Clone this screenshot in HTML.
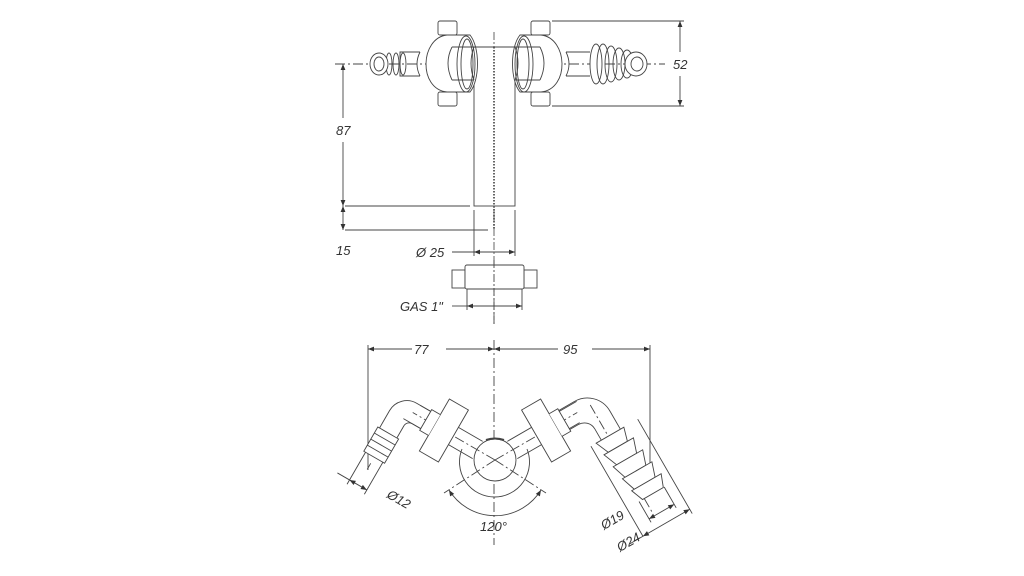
<!DOCTYPE html>
<html><head><meta charset="utf-8"><style>
html,body{margin:0;padding:0;background:#fff}
svg{display:block}
text{font-family:"Liberation Sans",sans-serif;font-style:italic;font-size:13px;fill:#333}
</style></head><body>
<svg width="1024" height="576" viewBox="0 0 1024 576" xmlns="http://www.w3.org/2000/svg">
<defs>
<marker id="a" viewBox="0 0 10 10" refX="10" refY="5" markerWidth="8" markerHeight="6" orient="auto-start-reverse" markerUnits="userSpaceOnUse"><path d="M0,1 L10,5 L0,9z" fill="#333"/></marker>
</defs>
<g fill="none" stroke="#444" stroke-width="0.9">
<!-- TOP VIEW -->
<line x1="494" y1="32" x2="494" y2="326" stroke-dasharray="8 2 2 2" stroke="#555"/>
<line x1="335" y1="64" x2="665" y2="64" stroke-dasharray="10 3 2 3"/>
<!-- vertical pipe -->
<rect x="474" y="47" width="41" height="159" fill="#fff"/>
<line x1="494" y1="47" x2="494" y2="230" stroke="#666" stroke-dasharray="1.5 1.5" stroke-width="2"/>
<!-- left nut -->
<rect x="438" y="21" width="19" height="14" rx="2" fill="#fff"/>
<rect x="438" y="92" width="19" height="14" rx="2" fill="#fff"/>
<path d="M447,35 C420,38 418,89 447,92 L470,92 C480,80 480,47 470,35 Z" fill="#fff"/>
<ellipse cx="466" cy="64" rx="9" ry="28"/>
<ellipse cx="467" cy="64" rx="6" ry="25"/>
<!-- left connector/barb -->
<path d="M420,52 H400 V76 H420" />
<path d="M420,52 Q414,64 420,76"/>
<ellipse cx="403" cy="64" rx="3" ry="11"/>
<ellipse cx="396" cy="64" rx="3" ry="11"/>
<ellipse cx="389" cy="64" rx="3" ry="11"/>
<ellipse cx="379" cy="64" rx="9" ry="11" fill="#fff"/>
<ellipse cx="379" cy="64" rx="5" ry="7"/>
<!-- right nut -->
<rect x="531" y="21" width="19" height="14" rx="2" fill="#fff"/>
<rect x="531" y="92" width="19" height="14" rx="2" fill="#fff"/>
<path d="M541,35 C568,38 570,89 541,92 L520,92 C510,80 510,47 520,35 Z" fill="#fff"/>
<ellipse cx="524" cy="64" rx="9" ry="28"/>
<ellipse cx="523" cy="64" rx="6" ry="25"/>
<!-- horizontal tube on top -->
<path d="M452,47 H474 M452,80 H474 M515,47 H540 M515,80 H540" />
<path d="M452,47 Q444,63 452,80 M540,47 Q548,63 540,80"/>
<path d="M474,47 H515 M474,47 Q468,63 474,80 M515,47 Q521,63 515,80"/>
<!-- right connector/barb -->
<path d="M566,52 H590 M566,76 H590"/>
<path d="M566,52 Q572,64 566,76"/>
<ellipse cx="596" cy="64" rx="6" ry="20" fill="#fff"/>
<ellipse cx="603" cy="64" rx="6" ry="20"/>
<ellipse cx="611" cy="64" rx="6" ry="18"/>
<ellipse cx="619" cy="64" rx="6" ry="16"/>
<ellipse cx="627" cy="64" rx="6" ry="14"/>
<ellipse cx="636" cy="64" rx="11" ry="12" fill="#fff"/>
<ellipse cx="637" cy="64" rx="6" ry="7"/>
<!-- 52 dim -->
<line x1="552" y1="21" x2="684" y2="21"/>
<line x1="552" y1="106" x2="684" y2="106"/>
<line x1="680" y1="52" x2="680" y2="21" marker-end="url(#a)"/>
<line x1="680" y1="76" x2="680" y2="106" marker-end="url(#a)"/>
<!-- 87 / 15 dims -->
<line x1="343" y1="118" x2="343" y2="64" marker-end="url(#a)"/>
<line x1="343" y1="142" x2="343" y2="206" marker-end="url(#a)"/>
<line x1="343" y1="206" x2="343" y2="230" marker-start="url(#a)" marker-end="url(#a)"/>
<line x1="345" y1="206" x2="470" y2="206"/>
<line x1="345" y1="230" x2="488" y2="230"/>
<!-- Ø25 -->
<line x1="474" y1="210" x2="474" y2="256"/>
<line x1="515" y1="210" x2="515" y2="256"/>
<line x1="452" y1="252" x2="474" y2="252"/>
<line x1="474" y1="252" x2="515" y2="252" marker-start="url(#a)" marker-end="url(#a)"/>
<!-- lower nut -->
<rect x="452" y="270" width="13" height="18" fill="#fff"/>
<rect x="524" y="270" width="13" height="18" fill="#fff"/>
<rect x="465" y="265" width="59" height="24" rx="2" fill="#fff"/>
<line x1="467" y1="289" x2="467" y2="310"/>
<line x1="522" y1="289" x2="522" y2="310"/>
<line x1="452" y1="306" x2="467" y2="306"/>
<line x1="467" y1="306" x2="522" y2="306" marker-start="url(#a)" marker-end="url(#a)"/>
<line x1="494" y1="260" x2="494" y2="326" stroke-dasharray="8 2 2 2"/>

<!-- BOTTOM VIEW -->
<line x1="368" y1="345" x2="368" y2="470"/>
<line x1="650" y1="345" x2="650" y2="480"/>
<line x1="412" y1="349" x2="368" y2="349" marker-end="url(#a)"/>
<line x1="446" y1="349" x2="494" y2="349" marker-end="url(#a)"/>
<line x1="558" y1="349" x2="494" y2="349" marker-end="url(#a)"/>
<line x1="592" y1="349" x2="650" y2="349" marker-end="url(#a)"/>
<line x1="494" y1="340" x2="494" y2="545" stroke-dasharray="10 3 2 3"/>
<!-- hub -->
<path d="M462,449 A35,35 0 1,0 527,449"/>
<circle cx="495" cy="460" r="21" fill="#fff"/>
<path d="M486,440 Q495,437 504,440" stroke-width="2"/>
<!-- 120 arc -->
<path d="M449,490 A54,54 0 0,0 541,490" marker-start="url(#a)" marker-end="url(#a)"/>
<line x1="495" y1="460" x2="444" y2="493" stroke-dasharray="10 3 2 3"/>
<line x1="495" y1="460" x2="546" y2="493" stroke-dasharray="10 3 2 3"/>

<!-- right arm -->
<g transform="translate(495,460) rotate(-30)">
<path d="M20,-10 H100 M20,10 H92"/>
<line x1="0" y1="0" x2="95" y2="0" stroke-dasharray="10 3 2 3"/>
<rect x="48" y="-30" width="22" height="60" fill="#fff"/>
<path d="M70,-13 H80 V13 H70" fill="#fff"/>
<path d="M80,-11 H98 A26,26 0 0,1 124,15 V36 M80,11 H90 A12,12 0 0,1 102,23 V36"/>
<path d="M110,0 V125" stroke-dasharray="10 3 2 3"/>
<path d="M96,36 L128,36 L124,50 L102,50 Z" fill="#fff"/>
<path d="M97,50 L131,50 L126,65 L103,65 Z" fill="#fff"/>
<path d="M99,65 L133,65 L128,80 L104,80 Z" fill="#fff"/>
<path d="M101,80 L135,80 L130,95 L106,95 Z" fill="#fff"/>
<path d="M103,95 L137,95 L132,108 L108,108 Z" fill="#fff"/>
<path d="M90,36 V140 M144,36 V145 M104,108 V132 M133,108 V132"/>
<line x1="104" y1="128" x2="133" y2="128" marker-start="url(#a)" marker-end="url(#a)"/>
<line x1="90" y1="140" x2="144" y2="140" marker-start="url(#a)" marker-end="url(#a)"/>
<line x1="90" y1="140" x2="75" y2="140"/>
</g>
<!-- left arm -->
<g transform="translate(495,460) rotate(-150)">
<path d="M20,-10 H100 M20,10 H92"/>
<line x1="0" y1="0" x2="95" y2="0" stroke-dasharray="10 3 2 3"/>
<rect x="48" y="-30" width="22" height="60" fill="#fff"/>
<path d="M70,-12 H80 V12 H70" fill="#fff"/>
<path d="M80,10 H96 A20,20 0 0,0 116,-10 V-30 M80,-10 H90 A6,6 0 0,0 96,-16 V-30"/>
<rect x="94" y="-58" width="24" height="28" fill="#fff"/>
<path d="M94,-37 H118 M94,-44 H118 M94,-51 H118"/>
<path d="M96,-58 V-95 M116,-58 V-95"/>
<line x1="106" y1="-65" x2="106" y2="-72"/>
<line x1="96" y1="-90" x2="116" y2="-90" marker-start="url(#a)" marker-end="url(#a)"/>
<line x1="116" y1="-90" x2="130" y2="-90"/>
</g>
</g>
<!-- labels -->
<rect x="670" y="55" width="22" height="16" fill="#fff"/>
<text x="673" y="69">52</text>
<rect x="334" y="120" width="22" height="18" fill="#fff"/>
<text x="336" y="135">87</text>
<text x="336" y="255">15</text>
<text x="416" y="257">Ø 25</text>
<text x="400" y="311">GAS 1"</text>
<text x="414" y="354">77</text>
<text x="563" y="354">95</text>
<text x="480" y="531">120°</text>
<text transform="translate(386,497) rotate(30)">Ø12</text>
<text transform="translate(604,530) rotate(-30)">Ø19</text>
<text transform="translate(620,552) rotate(-30)">Ø24</text>
</svg>
</body></html>
